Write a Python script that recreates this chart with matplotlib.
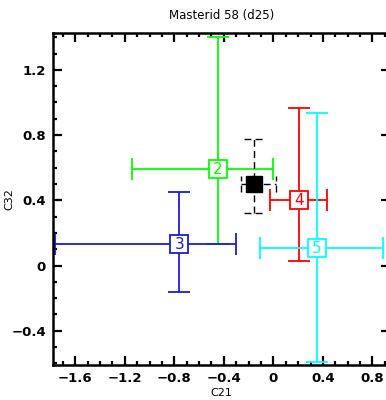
import matplotlib
matplotlib.use("Agg")
import matplotlib.pyplot as plt
from matplotlib.ticker import MultipleLocator

# component estimates (label, colour, x, x_lo, x_hi, y, y_lo, y_hi)
labels = ["2", "3", "4", "5"]
colors = ["#00ff00", "#1a1adc", "#ff0000", "#00ffff"]
c21 = [-0.45, -0.76, 0.21, 0.35]
c21_lo = [-1.14, -1.76, -0.03, -0.105]
c21_hi = [0.00, -0.30, 0.43, 0.885]
c32 = [0.59, 0.13, 0.40, 0.105]
c32_lo = [0.13, -0.16, 0.03, -0.59]
c32_hi = [1.40, 0.45, 0.965, 0.935]

# combined point (black)
mean_x, mean_xlo, mean_xhi = -0.16, -0.26, 0.02
mean_y, mean_ylo, mean_yhi = 0.50, 0.32, 0.775

fig = plt.figure(figsize=(3.86, 4.0), dpi=100)
ax = fig.add_axes([53 / 386, 1 - 365 / 400, (390 - 53) / 386, (365 - 33) / 400])

for lab, col, x, xl, xh, y, yl, yh in zip(labels, colors, c21, c21_lo, c21_hi, c32, c32_lo, c32_hi):
    ax.errorbar([x], [y], xerr=[[x - xl], [xh - x]], yerr=[[y - yl], [yh - y]],
                fmt="none", ecolor=col, elinewidth=1.3, capsize=8, capthick=1.3, zorder=2)
    ax.plot([x], [y], marker="s", markersize=12.5, markerfacecolor="white",
            markeredgecolor=col, markeredgewidth=1.3, zorder=3)
    ax.text(x, y, lab, color=col, fontsize=11, ha="center", va="center", zorder=4)

# black point, dashed error bars
dash = (0, (5, 3))
ax.plot([mean_xlo, mean_xhi], [mean_y, mean_y], color="black", lw=1, ls=dash, zorder=2)
ax.plot([mean_x, mean_x], [mean_ylo, mean_yhi], color="black", lw=1, ls=dash, zorder=2)
capw = 0.08
caph = 0.05
ax.plot([mean_x - capw, mean_x + capw], [mean_ylo, mean_ylo], color="black", lw=1, ls=dash)
ax.plot([mean_x - capw, mean_x + capw], [mean_yhi, mean_yhi], color="black", lw=1, ls=dash)
ax.plot([mean_xlo, mean_xlo], [mean_y - caph, mean_y + caph], color="black", lw=1, ls=dash)
ax.plot([mean_xhi, mean_xhi], [mean_y - caph, mean_y + caph], color="black", lw=1, ls=dash)
ax.plot([mean_x], [mean_y], marker="s", markersize=11, color="black", zorder=5)

ax.set_xlim(-1.78, 0.942)
ax.set_ylim(-0.61, 1.426)
ax.xaxis.set_major_locator(MultipleLocator(0.4))
ax.xaxis.set_minor_locator(MultipleLocator(0.1))
ax.yaxis.set_major_locator(MultipleLocator(0.4))
ax.yaxis.set_minor_locator(MultipleLocator(0.1))
fmt = lambda v, p: "0" if abs(v) < 1e-9 else f"{v:.1f}".replace("-", "\u2212")
ax.xaxis.set_major_formatter(fmt)
ax.yaxis.set_major_formatter(fmt)
ax.tick_params(which="both", direction="in", top=True, right=True, width=1.6)
ax.tick_params(which="major", length=6.5, labelsize=9.5, pad=5)
ax.tick_params(which="minor", length=3)
for lbl in ax.get_xticklabels() + ax.get_yticklabels():
    lbl.set_fontweight("bold")
for s in ax.spines.values():
    s.set_linewidth(1.8)

ax.set_xlabel("C21", fontsize=8, labelpad=2)
ax.set_ylabel("C32", fontsize=8)
ax.yaxis.set_label_coords(-0.115, 0.5)
ax.set_title("Masterid 58 (d25)", fontsize=8.5, pad=10)

fig.savefig("out.png", dpi=100)
